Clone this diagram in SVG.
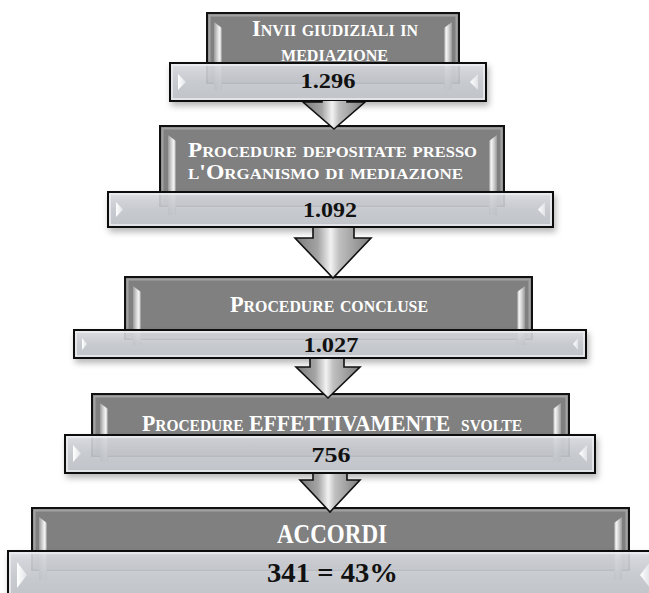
<svg xmlns="http://www.w3.org/2000/svg" width="649" height="593" viewBox="0 0 649 593">
<defs>
<linearGradient id="barG" x1="0" y1="0" x2="0" y2="1">
<stop offset="0" stop-color="#e4e6ea"/>
<stop offset="0.12" stop-color="#d5d7dc"/>
<stop offset="0.5" stop-color="#c6c9cf"/>
<stop offset="1" stop-color="#bec1c7"/>
</linearGradient>
<linearGradient id="stripL" x1="0" y1="0" x2="1" y2="0">
<stop offset="0" stop-color="#9a9a9a"/>
<stop offset="0.45" stop-color="#d8d8d8"/>
<stop offset="0.75" stop-color="#f8f8f8"/>
<stop offset="1" stop-color="#8c8c8c"/>
</linearGradient>
<linearGradient id="stripR" x1="1" y1="0" x2="0" y2="0">
<stop offset="0" stop-color="#9a9a9a"/>
<stop offset="0.45" stop-color="#d8d8d8"/>
<stop offset="0.75" stop-color="#f8f8f8"/>
<stop offset="1" stop-color="#8c8c8c"/>
</linearGradient>
<linearGradient id="arrG" x1="0" y1="0" x2="1" y2="0">
<stop offset="0" stop-color="#7a7a7a"/>
<stop offset="0.3" stop-color="#a4a4a4"/>
<stop offset="0.47" stop-color="#f2f2f2"/>
<stop offset="0.58" stop-color="#c0c0c0"/>
<stop offset="1" stop-color="#7c7c7c"/>
</linearGradient>
<linearGradient id="triG" x1="0" y1="0" x2="1" y2="0">
<stop offset="0" stop-color="#ffffff"/>
<stop offset="1" stop-color="#e0e2e6"/>
</linearGradient>
<filter id="sh" x="-10%" y="-30%" width="120%" height="180%">
<feDropShadow dx="2" dy="4" stdDeviation="3" flood-color="#000" flood-opacity="0.3"/>
</filter>
</defs>
<style>
.box{fill:#808080;stroke:#111;stroke-width:2}
.bev{fill:none;stroke:#a2a2a2;stroke-width:2}
.bar{fill:url(#barG);stroke:#111;stroke-width:2;fill-opacity:0.9}
.barhi{fill:none;stroke:#eceef1;stroke-width:1.5}
.tri{fill:url(#triG)}
.sl{fill:url(#stripL)}
.sr{fill:url(#stripR)}
.t{font-family:"Liberation Serif",serif;font-weight:bold;fill:#fff;text-anchor:middle;font-variant:small-caps}
.n{font-family:"Liberation Serif",serif;font-weight:bold;fill:#111;text-anchor:middle}
.arr{fill:url(#arrG)}
.arro{fill:none;stroke:#111;stroke-width:1.6;stroke-linejoin:miter}
</style>

<g id="node1">
<rect class="box" x="207" y="13" width="252" height="70"/>
<rect class="bev" x="209.5" y="15.5" width="247" height="66"/>
<path class="sl" d="M214,22 L222,28 L222,90 L214,90 Z"/>
<path class="sr" d="M452,22 L444,28 L444,90 L452,90 Z"/>
<text class="t" x="335" y="36" font-size="22.5" textLength="166" lengthAdjust="spacingAndGlyphs">Invii giudiziali in</text>
<text class="t" x="334.5" y="61" font-size="22.5" textLength="107" lengthAdjust="spacingAndGlyphs">mediazione</text>
<rect class="bar" x="170" y="63" width="316" height="38" filter="url(#sh)"/>
<rect class="barhi" x="172" y="65" width="312" height="34"/>
<path class="tri" d="M178,74 L186,82 L178,90 Z"/>
<path class="tri" d="M478,74 L470,82 L478,90 Z"/>
<text class="n" x="328" y="88" font-size="21.5" textLength="55" lengthAdjust="spacingAndGlyphs">1.296</text>
</g>

<g id="node2">
<rect class="box" x="160" y="126" width="344" height="80"/>
<rect class="bev" x="162.5" y="128.5" width="339" height="76"/>
<path class="sl" d="M168,135 L176,141 L176,215 L168,215 Z"/>
<path class="sr" d="M497,135 L489,141 L489,215 L497,215 Z"/>
<text class="t" x="332.5" y="156.5" font-size="21" textLength="289" lengthAdjust="spacingAndGlyphs">Procedure depositate presso</text>
<text class="t" x="325.5" y="179" font-size="21" textLength="275" lengthAdjust="spacingAndGlyphs">l'Organismo di mediazione</text>
<rect class="bar" x="108" y="192" width="445" height="35" filter="url(#sh)"/>
<rect class="barhi" x="110" y="194" width="441" height="31"/>
<path class="tri" d="M116,202 L123,209.5 L116,217 Z"/>
<path class="tri" d="M545,202 L538,209.5 L545,217 Z"/>
<text class="n" x="330" y="217" font-size="21.5" textLength="54" lengthAdjust="spacingAndGlyphs">1.092</text>
</g>

<g id="node3">
<rect class="box" x="125" y="277" width="407" height="62"/>
<rect class="bev" x="127.5" y="279.5" width="402" height="58"/>
<path class="sl" d="M133,286 L141,292 L141,345 L133,345 Z"/>
<path class="sr" d="M525,286 L517,292 L517,345 L525,345 Z"/>
<text class="t" x="329" y="312" font-size="22.5" textLength="198" lengthAdjust="spacingAndGlyphs">Procedure concluse</text>
<rect class="bar" x="74" y="330" width="512" height="28" filter="url(#sh)"/>
<rect class="barhi" x="76" y="332" width="508" height="24"/>
<path class="tri" d="M82,338 L87,344 L82,350 Z"/>
<path class="tri" d="M578,338 L573,344 L578,350 Z"/>
<text class="n" x="331" y="352" font-size="21.5" textLength="55" lengthAdjust="spacingAndGlyphs">1.027</text>
</g>

<g id="node4">
<rect class="box" x="92" y="394" width="477" height="62"/>
<rect class="bev" x="94.5" y="396.5" width="472" height="58"/>
<path class="sl" d="M100,403 L108,409 L108,462 L100,462 Z"/>
<path class="sr" d="M561,403 L553,409 L553,462 L561,462 Z"/>
<text class="t" x="332" y="431" font-size="22.5" textLength="380" lengthAdjust="spacingAndGlyphs" xml:space="preserve">Procedure EFFETTIVAMENTE  svolte</text>
<rect class="bar" x="65" y="435" width="530" height="38" filter="url(#sh)"/>
<rect class="barhi" x="67" y="437" width="526" height="34"/>
<path class="tri" d="M73,445 L81,453.5 L73,462 Z"/>
<path class="tri" d="M587,445 L579,453.5 L587,462 Z"/>
<text class="n" x="331" y="462" font-size="21.5" textLength="39" lengthAdjust="spacingAndGlyphs">756</text>
</g>

<g id="node5">
<rect class="box" x="32" y="508" width="597" height="62"/>
<rect class="bev" x="34.5" y="510.5" width="592" height="58"/>
<path class="sl" d="M39,517 L47,523 L47,580 L39,580 Z"/>
<path class="sr" d="M622,517 L614,523 L614,580 L622,580 Z"/>
<text class="t" x="332" y="543" font-size="27" textLength="110" lengthAdjust="spacingAndGlyphs">ACCORDI</text>
<rect class="bar" x="8" y="551" width="660" height="50" filter="url(#sh)"/>
<rect class="barhi" x="10" y="553" width="656" height="46"/>
<path class="tri" d="M17,562 L27,575 L17,588 Z"/>
<path class="tri" d="M650,562 L640,575 L650,588 Z"/>
<text class="n" x="332.5" y="582" font-size="28" textLength="131" lengthAdjust="spacingAndGlyphs">341 = 43%</text>
</g>

<g id="connectors">
<g>
<path class="arr" d="M322,101 L347,101 L347,102 L365,102 L334,129 L303,102 L322,102 Z"/>
<path class="arro" d="M322,101 L322,102 L303,102 L334,129 L365,102 L347,102 L347,101"/>
</g>
<g>
<path class="arr" d="M313,228 L354,228 L354,238 L371,238 L333,278 L295,238 L313,238 Z"/>
<path class="arro" d="M313,228 L313,238 L295,238 L333,278 L371,238 L354,238 L354,228"/>
</g>
<g>
<path class="arr" d="M310,359 L344,359 L344,367 L360,367 L328,398 L296,367 L310,367 Z"/>
<path class="arro" d="M310,359 L310,367 L296,367 L328,398 L360,367 L344,367 L344,359"/>
</g>
<g>
<path class="arr" d="M313,474 L347,474 L347,480 L360,480 L330,512 L300,480 L313,480 Z"/>
<path class="arro" d="M313,474 L313,480 L300,480 L330,512 L360,480 L347,480 L347,474"/>
</g>
</g>
</svg>
